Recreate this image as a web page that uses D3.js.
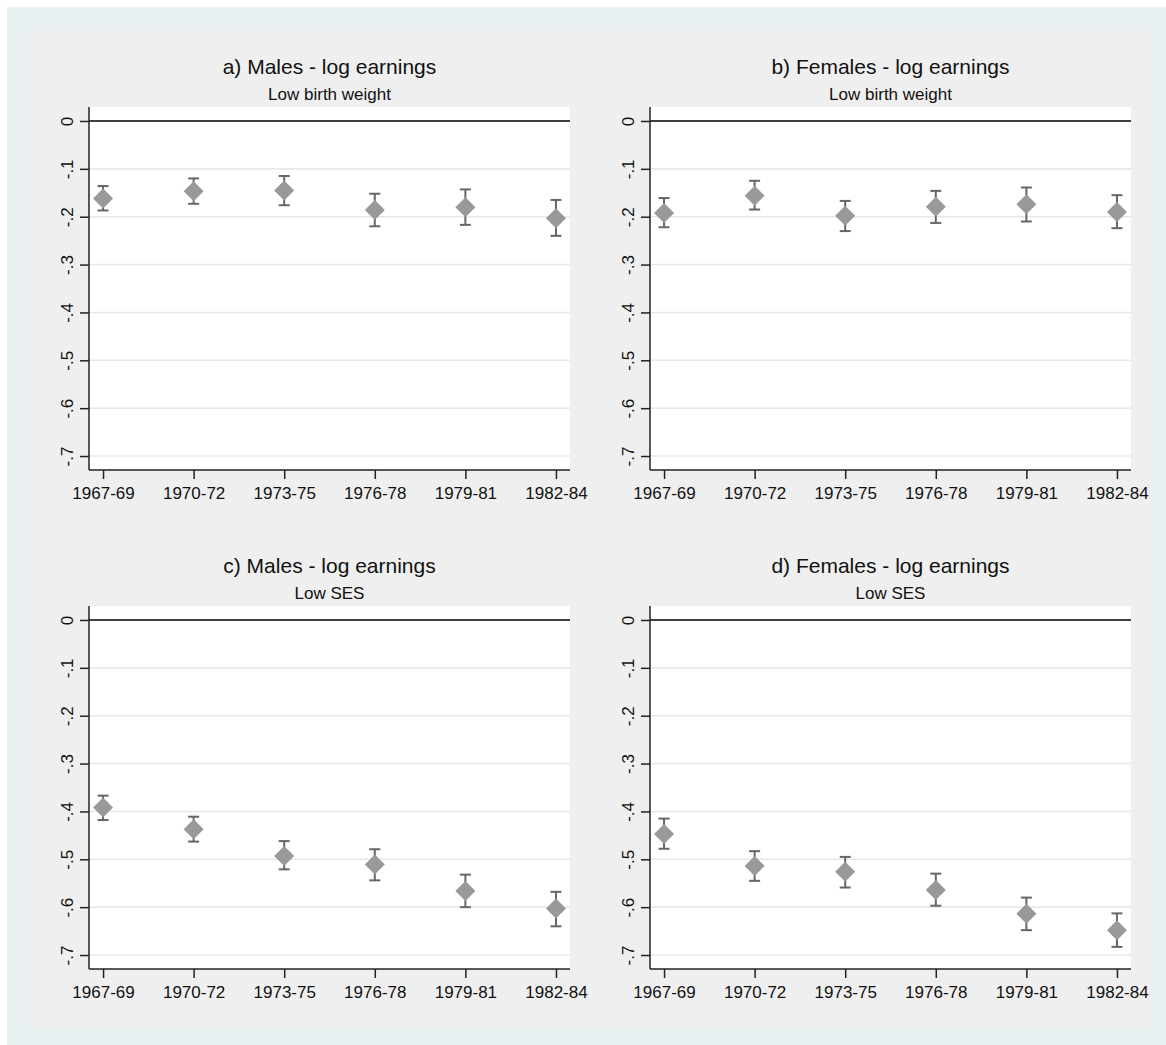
<!DOCTYPE html>
<html>
<head>
<meta charset="utf-8">
<script src="https://cdn.jsdelivr.net/npm/d3@7"></script>
<style>
  html, body { margin: 0; padding: 0; background: #ffffff; }
  svg { display: block; }
  text { font-family: "Liberation Sans", Arial, Helvetica, sans-serif; fill: #111; }
</style>
</head>
<body>
<svg id="chart" width="1166" height="1045"></svg>
<script>
// Birth cohorts on the x axis
const cohorts = ["1967-69", "1970-72", "1973-75", "1976-78", "1979-81", "1982-84"];
const yTicks = [0, -0.1, -0.2, -0.3, -0.4, -0.5, -0.6, -0.7];
const yTickLabels = ["0", "-.1", "-.2", "-.3", "-.4", "-.5", "-.6", "-.7"];

// a) Males, low birth weight
const malesLbwEst = [-0.162, -0.147, -0.145, -0.186, -0.180, -0.203];
const malesLbwHi  = [-0.136, -0.120, -0.115, -0.152, -0.143, -0.165];
const malesLbwLo  = [-0.187, -0.173, -0.176, -0.220, -0.217, -0.240];

// b) Females, low birth weight
const femalesLbwEst = [-0.192, -0.156, -0.198, -0.179, -0.174, -0.190];
const femalesLbwHi  = [-0.161, -0.125, -0.167, -0.146, -0.139, -0.155];
const femalesLbwLo  = [-0.222, -0.185, -0.230, -0.213, -0.210, -0.224];

// c) Males, low SES
const malesSesEst = [-0.392, -0.437, -0.493, -0.511, -0.566, -0.603];
const malesSesHi  = [-0.367, -0.411, -0.462, -0.479, -0.532, -0.568];
const malesSesLo  = [-0.418, -0.463, -0.521, -0.544, -0.600, -0.640];

// d) Females, low SES
const femalesSesEst = [-0.447, -0.514, -0.526, -0.564, -0.614, -0.648];
const femalesSesHi  = [-0.415, -0.483, -0.495, -0.530, -0.580, -0.613];
const femalesSesLo  = [-0.478, -0.545, -0.559, -0.597, -0.648, -0.683];

const panelTitles = ["a) Males - log earnings", "b) Females - log earnings",
                     "c) Males - log earnings", "d) Females - log earnings"];
const panelSubtitles = ["Low birth weight", "Low birth weight", "Low SES", "Low SES"];

const panels = [
  { est: malesLbwEst,   hi: malesLbwHi,   lo: malesLbwLo },
  { est: femalesLbwEst, hi: femalesLbwHi, lo: femalesLbwLo },
  { est: malesSesEst,   hi: malesSesHi,   lo: malesSesLo },
  { est: femalesSesEst, hi: femalesSesHi, lo: femalesSesLo }
];

const svg = d3.select("#chart");

// Graph region backgrounds
svg.append("rect").attr("x", 7).attr("y", 7).attr("width", 1159).attr("height", 1038)
  .attr("fill", "#e9f1f3");
svg.append("rect").attr("x", 29).attr("y", 31).attr("width", 1123).attr("height", 997)
  .attr("fill", "#efefef");

const plotW = 481, plotH = 363;
const origins = [[89, 107], [650, 107], [89, 606], [650, 606]];

const x = d3.scalePoint().domain(cohorts).range([0, plotW]).padding(0.155);
const y = d3.scaleLinear().domain([0.0292, -0.7292]).range([0, plotH]);

panels.forEach((p, i) => {
  const [ox, oy] = origins[i];
  const g = svg.append("g").attr("transform", `translate(${ox},${oy})`);

  // titles
  g.append("text").attr("x", plotW / 2).attr("y", -33)
    .attr("text-anchor", "middle").style("font-size", "21px")
    .text(panelTitles[i]);
  g.append("text").attr("x", plotW / 2).attr("y", -7)
    .attr("text-anchor", "middle").style("font-size", "17px")
    .text(panelSubtitles[i]);

  // plot area
  g.append("rect").attr("width", plotW).attr("height", plotH).attr("fill", "#ffffff");

  // horizontal grid lines
  g.selectAll("line.grid").data(yTicks.filter(v => v !== 0)).enter()
    .append("line").attr("class", "grid")
    .attr("x1", 0).attr("x2", plotW)
    .attr("y1", d => y(d)).attr("y2", d => y(d))
    .attr("stroke", "#e8e8e8").attr("stroke-width", 1.6);

  // reference line at zero
  g.append("line").attr("x1", 0).attr("x2", plotW)
    .attr("y1", y(0)).attr("y2", y(0))
    .attr("stroke", "#000").attr("stroke-width", 1.5);

  // y axis
  const yAxis = d3.axisLeft(y).tickValues(yTicks)
    .tickFormat((d, k) => yTickLabels[k]).tickSize(9).tickPadding(4);
  const ya = g.append("g").call(yAxis);
  ya.select(".domain").attr("stroke", "#222").attr("stroke-width", 1.5)
    .attr("d", `M0,0V${plotH}`);
  ya.selectAll(".tick line").attr("stroke", "#222").attr("stroke-width", 1.5);
  ya.selectAll(".tick text")
    .attr("x", null).attr("dy", null)
    .attr("text-anchor", "middle")
    .attr("transform", "translate(-16,0) rotate(-90)")
    .attr("y", 0)
    .style("font-size", "17px").style("fill", "#111");

  // x axis
  const xAxis = d3.axisBottom(x).tickSize(9).tickPadding(8);
  const xa = g.append("g").attr("transform", `translate(0,${plotH})`).call(xAxis);
  xa.select(".domain").attr("stroke", "#222").attr("stroke-width", 1.5)
    .attr("d", `M0,0H${plotW}`);
  xa.selectAll(".tick line").attr("stroke", "#222").attr("stroke-width", 1.5);
  xa.selectAll(".tick text").style("font-size", "17px").style("fill", "#111");

  // confidence intervals
  const rows = cohorts.map((c, k) => ({ c, est: p.est[k], hi: p.hi[k], lo: p.lo[k] }));
  const ci = g.selectAll("g.ci").data(rows).enter().append("g").attr("class", "ci");
  const capHalf = 5.5;
  ci.append("line")
    .attr("x1", d => x(d.c)).attr("x2", d => x(d.c))
    .attr("y1", d => y(d.hi)).attr("y2", d => y(d.lo))
    .attr("stroke", "#666").attr("stroke-width", 2);
  ci.append("line")
    .attr("x1", d => x(d.c) - capHalf).attr("x2", d => x(d.c) + capHalf)
    .attr("y1", d => y(d.hi)).attr("y2", d => y(d.hi))
    .attr("stroke", "#666").attr("stroke-width", 2);
  ci.append("line")
    .attr("x1", d => x(d.c) - capHalf).attr("x2", d => x(d.c) + capHalf)
    .attr("y1", d => y(d.lo)).attr("y2", d => y(d.lo))
    .attr("stroke", "#666").attr("stroke-width", 2);

  // point estimates as diamonds
  const r = 10;
  g.selectAll("path.pt").data(rows).enter().append("path").attr("class", "pt")
    .attr("d", d => {
      const cx = x(d.c), cy = y(d.est);
      return `M${cx},${cy - r}L${cx + r},${cy}L${cx},${cy + r}L${cx - r},${cy}Z`;
    })
    .attr("fill", "#999999");
});
</script>
</body>
</html>
